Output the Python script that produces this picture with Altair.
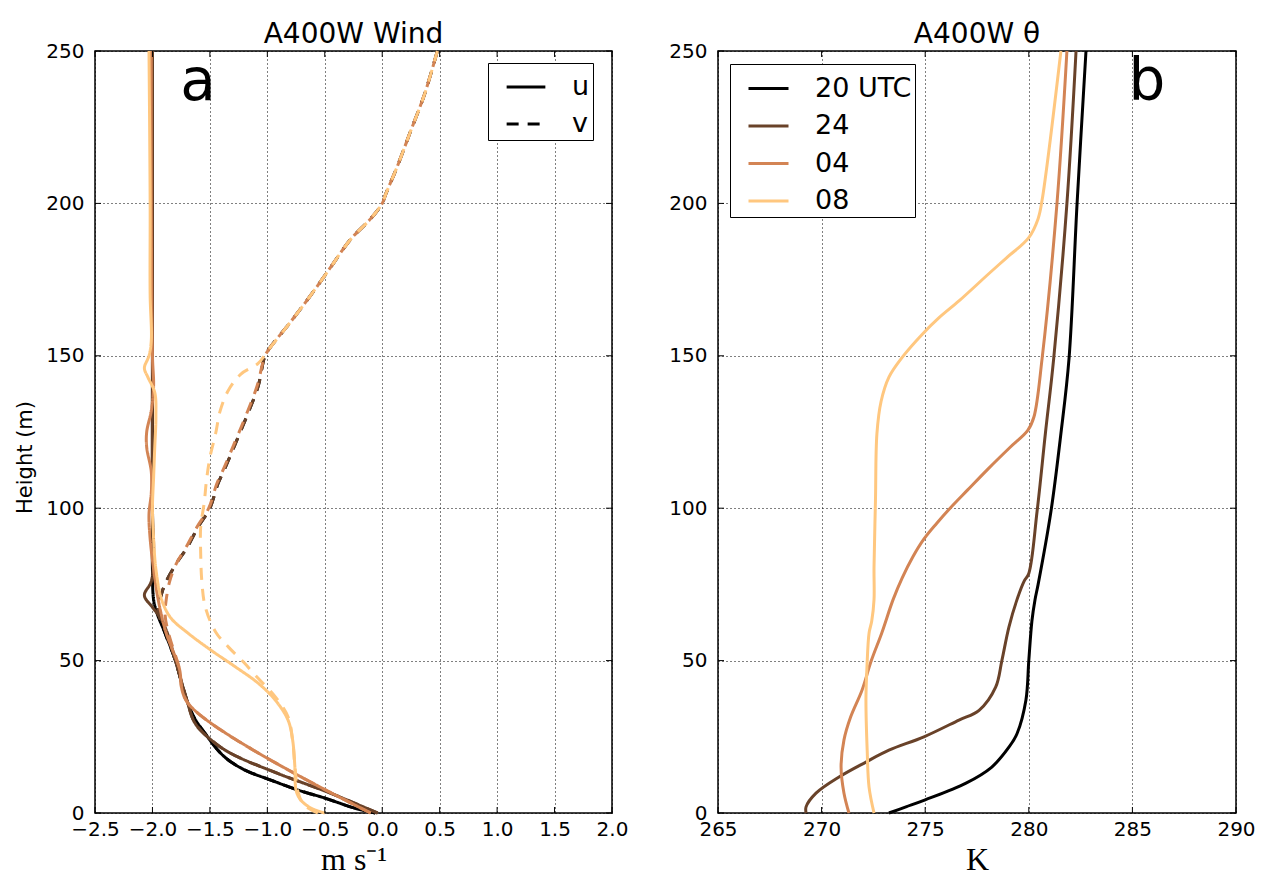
import altair as alt
import pandas as pd

# ---------------- data ----------------
TIMES = ["20 UTC", "24", "04", "08"]
COLORS = ["#000000", "#694229", "#d38454", "#ffc77f"]

# panel a: u (solid) and v (dashed) profiles, m s-1
H_U20 = [0, 1.6, 4.9, 7.5, 10.8, 14, 17.4, 20.6, 26, 31.5, 38, 50, 59, 65.5, 70, 80, 100, 150, 200, 250]
U20 = [-0.06, -0.24, -0.50, -0.73, -0.97, -1.19, -1.34, -1.43, -1.54, -1.64, -1.71, -1.80, -1.89, -1.96, -1.99, -2.00, -2.00, -2.00, -2.00, -2.00]

H_U24 = [0, 6.5, 13, 19.6, 24, 29.5, 37, 50, 59, 64, 67.5, 71.4, 76, 85, 100, 150, 200, 250]
U24 = [-0.04, -0.45, -0.91, -1.32, -1.49, -1.63, -1.70, -1.80, -1.87, -1.93, -2.00, -2.07, -2.01, -1.99, -2.00, -2.00, -2.00, -2.00]

H_U04 = [0, 36, 48, 59, 70, 80, 90, 98, 105, 112, 120, 125, 132, 140, 150, 200, 250]
U04 = [-0.10, -1.69, -1.77, -1.88, -1.95, -1.99, -2.02, -2.03, -2.01, -2.01, -2.05, -2.05, -2.01, -1.99, -2.00, -2.01, -2.01]

H_U08 = [0, 1.6, 4.3, 7.5, 15, 24, 30.5, 37, 42.6, 48, 53.4, 59, 64, 70, 80, 90, 100, 110, 120, 130, 138, 143, 146, 150, 155, 170, 200, 250]
U08 = [-0.50, -0.62, -0.71, -0.75, -0.76, -0.78, -0.82, -0.93, -1.08, -1.28, -1.49, -1.69, -1.84, -1.92, -1.97, -1.99, -2.00, -1.99, -1.98, -1.97, -1.98, -2.04, -2.07, -2.03, -2.01, -2.02, -2.02, -2.03]

H_V20 = [0, 1.6, 4.9, 7.5, 10.8, 14, 17.4, 20.6, 26, 31.5, 38, 50, 59, 66, 72, 76, 82, 87, 94, 100, 108, 113, 121, 131, 140, 150, 153, 161, 170, 179, 188, 195, 200, 203, 212, 223, 236, 250]
V20 = [-0.06, -0.24, -0.50, -0.73, -0.97, -1.19, -1.34, -1.43, -1.54, -1.64, -1.71, -1.80, -1.89, -1.95, -1.92, -1.88, -1.79, -1.70, -1.60, -1.50, -1.43, -1.37, -1.28, -1.17, -1.08, -1.02, -0.97, -0.80, -0.62, -0.45, -0.28, -0.10, 0.00, 0.03, 0.13, 0.24, 0.37, 0.48]

H_V24 = [0, 6.5, 13, 19.6, 24, 29.5, 37, 50, 59, 66, 72, 76, 82, 87, 94, 100, 108, 113, 121, 131, 140, 150, 153, 161, 170, 179, 188, 195, 200, 203, 212, 223, 236, 250]
V24 = [-0.04, -0.45, -0.91, -1.32, -1.49, -1.63, -1.70, -1.80, -1.88, -1.95, -1.92, -1.88, -1.79, -1.70, -1.60, -1.50, -1.43, -1.37, -1.28, -1.17, -1.08, -1.02, -0.97, -0.80, -0.62, -0.45, -0.28, -0.10, 0.00, 0.03, 0.13, 0.24, 0.37, 0.48]

H_V04 = [0, 36, 48, 59, 65, 70, 76, 82, 87, 94, 100, 108, 113, 121, 131, 140, 150, 153, 161, 170, 179, 188, 195, 200, 203, 212, 223, 236, 250]
V04 = [-0.10, -1.69, -1.77, -1.86, -1.89, -1.88, -1.85, -1.79, -1.71, -1.61, -1.51, -1.44, -1.38, -1.29, -1.18, -1.09, -1.02, -0.97, -0.80, -0.62, -0.45, -0.28, -0.10, 0.00, 0.03, 0.13, 0.24, 0.37, 0.48]

H_V08 = [0, 2.6, 6.5, 15.2, 23.9, 31.6, 38.1, 44.2, 49.6, 54.5, 59.4, 67.6, 76, 85, 94, 101.6, 109, 116.6, 124.5, 132, 138.6, 144, 147.5, 152, 161, 170, 179, 188, 195, 200, 203, 212, 223, 236, 250]
V08 = [-0.56, -0.68, -0.73, -0.76, -0.78, -0.82, -0.93, -1.08, -1.21, -1.34, -1.45, -1.54, -1.57, -1.58, -1.58, -1.55, -1.53, -1.50, -1.45, -1.41, -1.34, -1.23, -1.08, -0.99, -0.80, -0.62, -0.45, -0.28, -0.10, 0.00, 0.03, 0.13, 0.24, 0.37, 0.48]

# panel b: potential temperature, K
H_T20 = [0, 2, 4.3, 9.8, 15, 21.6, 26, 37, 50, 63, 70, 75, 99, 124.5, 149, 200, 250]
T20 = [273.25, 274.07, 275.0, 276.97, 278.2, 279.04, 279.43, 279.86, 280.0, 280.15, 280.3, 280.45, 281.07, 281.55, 281.94, 282.33, 282.76]

H_T24 = [0, 2, 6.5, 11.8, 16.7, 20.6, 25, 30.5, 33.7, 41.3, 50, 61, 70, 76, 78.6, 99, 124.5, 149, 200, 250]
T24 = [269.25, 269.25, 269.73, 270.84, 272.14, 273.25, 274.94, 276.63, 277.6, 278.4, 278.7, 279.04, 279.43, 279.77, 280.0, 280.4, 280.8, 281.2, 281.84, 282.28]

H_T04 = [0, 6.5, 15, 24, 31.5, 40.3, 50, 59, 70, 77, 84, 90, 95, 100, 106, 113, 120, 125.5, 130, 149, 200, 250]
T04 = [271.32, 271.08, 270.94, 271.08, 271.4, 271.95, 272.4, 272.9, 273.45, 273.88, 274.4, 274.95, 275.55, 276.2, 277.05, 278.05, 279.1, 279.95, 280.25, 280.64, 281.36, 281.84]

H_T08 = [0, 8.5, 20.6, 37, 48, 59, 63, 70, 80.6, 102.6, 124.5, 135, 143, 149.4, 157, 162.5, 168, 177, 182, 188.8, 195, 201, 250]
T08 = [272.53, 272.29, 272.2, 272.14, 272.19, 272.29, 272.42, 272.53, 272.53, 272.6, 272.67, 272.87, 273.25, 273.88, 274.85, 275.67, 276.63, 278.08, 278.9, 280.0, 280.45, 280.64, 281.55]

X_TICKS_A = [-2.5, -2.0, -1.5, -1.0, -0.5, 0.0, 0.5, 1.0, 1.5, 2.0]
X_TICKS_B = [265, 270, 275, 280, 285, 290]
Y_TICKS = [0, 50, 100, 150, 200, 250]

# ---------------- tables ----------------
wind_rows = []
wind_series = [
    ("20 UTC", H_U20, U20, H_V20, V20),
    ("24", H_U24, U24, H_V24, V24),
    ("04", H_U04, U04, H_V04, V04),
    ("08", H_U08, U08, H_V08, V08),
]
for t, hu, u, hv, v in wind_series:
    for h, val in zip(hu, u):
        wind_rows.append({"time": t, "comp": "u", "h": h, "val": val, "key": t + "_u"})
    for h, val in zip(hv, v):
        wind_rows.append({"time": t, "comp": "v", "h": h, "val": val, "key": t + "_v"})
wind = pd.DataFrame(wind_rows)

theta_rows = []
for t, hs, ts in [("20 UTC", H_T20, T20), ("24", H_T24, T24), ("04", H_T04, T04), ("08", H_T08, T08)]:
    for h, val in zip(hs, ts):
        theta_rows.append({"time": t, "h": h, "val": val, "key": t})
theta = pd.DataFrame(theta_rows)

# ---------------- styling ----------------
FONT = "DejaVu Sans"
SERIF = "Liberation Serif"
PW_A, PW_B, PH = 517, 518, 762
TICK_FS = 20
LINE_W = 3
TICK_LEN = 6
YS = alt.Scale(domain=[0, 250], nice=False, zero=False)

def main_x(values, fmt, title):
    return alt.Axis(orient="bottom", values=values, format=fmt, title=title,
                    titleFont=SERIF, titleFontSize=32, titleFontWeight="normal", titleColor="black",
                    titlePadding=5, labelFont=FONT, labelFontSize=TICK_FS, labelColor="black",
                    labelPadding=6, labelFlush=False, labelOverlap=False,
                    ticks=False, domain=False, grid=True, gridColor="black",
                    gridDash=[1, 3], gridWidth=1, gridOpacity=1)

def main_y(title):
    if title:
        kw = dict(title=title, titleFont=FONT, titleFontSize=21, titleFontWeight="normal",
                  titleColor="black", titlePadding=10, titleY=PH / 2 + 25)
    else:
        kw = dict(title=None)
    return alt.Axis(orient="left", values=Y_TICKS, format="d",
                    labelFont=FONT, labelFontSize=TICK_FS, labelColor="black",
                    labelPadding=11, labelOverlap=False, ticks=False, domain=False,
                    grid=True, gridColor="black", gridDash=[1, 3], gridWidth=1, gridOpacity=1, **kw)

def inner_ticks(xticks, xs, width):
    """Matplotlib-classic inward tick marks on all four sides (share the panel scales)."""
    xt = alt.Chart(pd.DataFrame({"val": xticks}))
    yt = alt.Chart(pd.DataFrame({"h": Y_TICKS}))
    style = dict(color="black", strokeWidth=1)
    return [
        xt.mark_rule(**style).encode(x=alt.X("val:Q", scale=xs), y=alt.value(PH), y2=alt.value(PH - TICK_LEN)),
        xt.mark_rule(**style).encode(x=alt.X("val:Q", scale=xs), y=alt.value(0), y2=alt.value(TICK_LEN)),
        yt.mark_rule(**style).encode(y=alt.Y("h:Q", scale=YS), x=alt.value(0), x2=alt.value(TICK_LEN)),
        yt.mark_rule(**style).encode(y=alt.Y("h:Q", scale=YS), x=alt.value(width), x2=alt.value(width - TICK_LEN)),
    ]

def panel(df, xdom, xticks, xfmt, xtitle, ytitle, width, color_legend, dash, title, letter, letter_x):
    xs = alt.Scale(domain=xdom, nice=False, zero=False)
    enc = dict(
        x=alt.X("val:Q", scale=xs, axis=main_x(xticks, xfmt, xtitle)),
        y=alt.Y("h:Q", scale=YS, axis=main_y(ytitle)),
        color=alt.Color("time:N", scale=alt.Scale(domain=TIMES, range=COLORS), legend=color_legend),
        detail="key:N",
        order=alt.Order("h:Q"),
    )
    if dash is not None:
        enc["strokeDash"] = dash
    lines = alt.Chart(df).mark_line(strokeWidth=LINE_W, interpolate="catmull-rom").encode(**enc)
    texts = alt.Chart(pd.DataFrame({"t": [letter], "title": [title]}))
    lab = texts.mark_text(
        font=FONT, fontSize=58, align="center", baseline="alphabetic", color="black"
    ).encode(x=alt.value(letter_x), y=alt.value(49), text="t:N")
    ttl = texts.mark_text(
        font=FONT, fontSize=28, align="center", baseline="alphabetic", color="black"
    ).encode(x=alt.value(width / 2), y=alt.value(-8), text="title:N")
    return alt.layer(lines, *inner_ticks(xticks, xs, width), lab, ttl).properties(
        width=width, height=PH)

LEG = dict(title=None, orient="none", symbolType="stroke", symbolStrokeWidth=3,
           labelFont=FONT, labelFontSize=27, labelColor="black", labelOffset=25,
           padding=3, symbolOffset=14, strokeColor="black", fillColor="white")

dash_legend = alt.StrokeDash(
    "comp:N",
    scale=alt.Scale(domain=["u", "v"], range=[[1, 0], [12, 9]]),
    legend=alt.Legend(legendX=393, legendY=12, symbolStrokeColor="black",
                      symbolSize=1500, rowPadding=3, **LEG),
)
color_legend = alt.Legend(legendX=12, legendY=13, symbolSize=1600, rowPadding=2.5, **LEG)

left = panel(wind, [-2.5, 2.0], X_TICKS_A, ".1f", "m s\u207b\u00b9", "Height (m)", PW_A,
             None, dash_legend, "A400W Wind", "a", 103)
right = panel(theta, [265, 290], X_TICKS_B, "d", "K", None, PW_B,
              color_legend, None, "A400W \u03b8", "b", 429)

chart = alt.hconcat(left, right, spacing=39).resolve_scale(
    color="independent", strokeDash="independent"
).properties(
    padding={"left": 14, "top": 20, "right": 0, "bottom": 0}, background="white"
).configure_view(stroke="black", strokeWidth=1.5)

chart.save("out.html", embed_options={"renderer": "svg", "actions": False})
